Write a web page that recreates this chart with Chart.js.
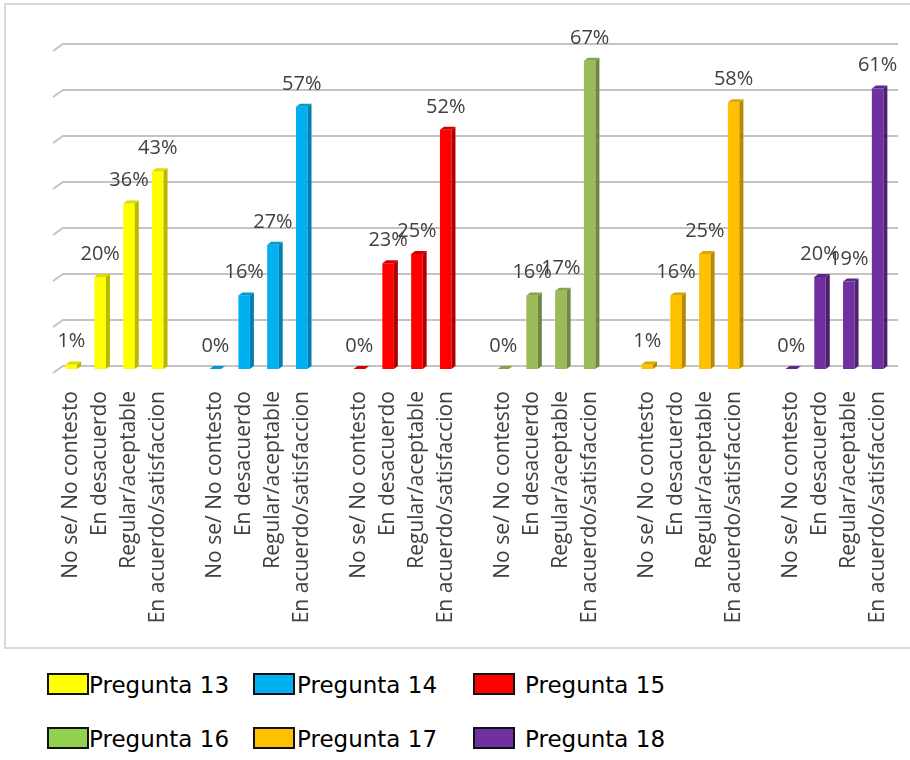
<!DOCTYPE html>
<html>
<head>
<meta charset="utf-8">
<script src="https://cdn.jsdelivr.net/npm/chart.js@4.4.1/dist/chart.umd.min.js"></script>
<style>
  body { margin: 0; background: #fff; }
  #wrap { position: relative; width: 910px; height: 760px; overflow: hidden; }
  #myChart { position: absolute; left: 0; top: 0; }
  .leg { position: absolute; font-family: "DejaVu Sans", sans-serif; font-size: 23px; color: #000; white-space: nowrap; }
  .leg .box { position: absolute; left: 0; top: 0; width: 38px; height: 18px; border: 2px solid #111; }
</style>
</head>
<body>
<div id="wrap">
  <canvas id="myChart" width="910" height="655"></canvas>
  <div id="legend"></div>
</div>
<script>
// answer categories, repeated for every question
const responses = ["No se/ No contesto", "En desacuerdo", "Regular/aceptable", "En acuerdo/satisfaccion"];
const questions = ["Pregunta 13", "Pregunta 14", "Pregunta 15", "Pregunta 16", "Pregunta 17", "Pregunta 18"];

// percentages per question
const p13 = [1, 20, 36, 43];
const p14 = [0, 16, 27, 57];
const p15 = [0, 23, 25, 52];
const p16 = [0, 16, 17, 67];
const p17 = [1, 16, 25, 58];
const p18 = [0, 20, 19, 61];
const allValues = [p13, p14, p15, p16, p17, p18];

const yTicks = [0, 10, 20, 30, 40, 50, 60, 70];

// colors
const fronts = ["#FFFF00", "#00B0F0", "#FF0000", "#9BBB59", "#FFC000", "#7030A0"];
const sides  = ["#B8B800", "#0080B0", "#B00000", "#6F8840", "#B88A00", "#4E2170"];
const tops   = ["#DCDC00", "#0098D0", "#D40000", "#86A34C", "#DCA600", "#5E2888"];
const legendColors = ["#FFFF00", "#00B0F0", "#FF0000", "#92D050", "#FFC000", "#7030A0"];

// build labels with an empty slot between groups
var labels = [];
questions.forEach(function (q, qi) {
  responses.forEach(function (r) { labels.push(r); });
  if (qi < questions.length - 1) labels.push("");
});

var datasets = questions.map(function (q, qi) {
  var data = labels.map(function () { return null; });
  allValues[qi].forEach(function (v, i) { data[qi * 5 + i] = v; });
  return {
    label: q,
    data: data,
    backgroundColor: fronts[qi],
    borderWidth: 0,
    barPercentage: 0.4,
    categoryPercentage: 1.0,
    grouped: false
  };
});

var DX = 4, DY = 3;

var framePlugin = {
  id: "frame",
  beforeDraw: function (chart) {
    var c = chart.ctx;
    c.save();
    c.strokeStyle = "#d9d9d9";
    c.lineWidth = 2;
    c.strokeRect(5, 4, 930, 644);
    c.restore();
  }
};

var wallGrid = {
  id: "wallGrid",
  beforeDatasetsDraw: function (chart) {
    var c = chart.ctx, ys = chart.scales.y;
    c.save();
    c.strokeStyle = "#c4c4c4";
    c.lineWidth = 2;
    yTicks.forEach(function (t) {
      var y = Math.round(ys.getPixelForValue(t)) - DY;
      c.beginPath();
      c.moveTo(53, y + 7);
      c.lineTo(63, y);
      c.lineTo(898, y);
      c.stroke();
    });
    c.restore();
  }
};

var bars3d = {
  id: "bars3d",
  afterDatasetsDraw: function (chart) {
    var c = chart.ctx;
    c.save();
    chart.data.datasets.forEach(function (ds, di) {
      chart.getDatasetMeta(di).data.forEach(function (bar, i) {
        var v = ds.data[i];
        if (v === null) return;
        var l = bar.x - bar.width / 2, r = bar.x + bar.width / 2;
        var top = bar.y, base = bar.base;
        // right side
        c.fillStyle = sides[di];
        c.beginPath();
        c.moveTo(r, top); c.lineTo(r + DX, top - DY);
        c.lineTo(r + DX, base - DY); c.lineTo(r, base);
        c.closePath(); c.fill();
        // top face
        c.fillStyle = tops[di];
        c.beginPath();
        c.moveTo(l, top); c.lineTo(l + DX, top - DY);
        c.lineTo(r + DX, top - DY); c.lineTo(r, top);
        c.closePath(); c.fill();
        // value label
        c.fillStyle = "#404040";
        c.font = "20px 'Open Sans'";
        c.textAlign = "center";
        c.textBaseline = "alphabetic";
        c.fillText(v + "%", bar.x, top - 17);
      });
    });
    c.restore();
  }
};

var ctx = document.getElementById("myChart").getContext("2d");
var myChart = new Chart(ctx, {
  type: "bar",
  data: { labels: labels, datasets: datasets },
  options: {
    responsive: false,
    animation: false,
    layout: { padding: { left: 57, right: 18, top: 47, bottom: 0 } },
    plugins: { legend: { display: false }, tooltip: { enabled: false } },
    scales: {
      x: {
        grid: { display: false },
        border: { display: false },
        ticks: {
          autoSkip: false,
          maxRotation: 90,
          minRotation: 90,
          padding: 14,
          color: "#404040",
          font: { family: "'Open Sans'", size: 21 }
        },
        afterFit: function (scale) {
          scale.height = 655 - 369;
          scale.paddingLeft = 0;
          scale.paddingRight = 0;
        }
      },
      y: {
        display: false,
        min: 0,
        max: 70
      }
    }
  },
  plugins: [framePlugin, wallGrid, bars3d]
});

// legend below the frame
var legLeft = [47, 253, 473];
var textLeft = [42, 44, 52];
var legTop = [673, 727];
var legend = document.getElementById("legend");
questions.forEach(function (q, qi) {
  var d = document.createElement("div");
  d.className = "leg";
  d.style.left = legLeft[qi % 3] + "px";
  d.style.top = legTop[Math.floor(qi / 3)] + "px";
  var b = document.createElement("span");
  b.className = "box";
  b.style.background = legendColors[qi];
  d.appendChild(b);
  var s = document.createElement("span");
  s.textContent = q;
  s.style.marginLeft = textLeft[qi % 3] + "px";
  s.style.position = "relative";
  s.style.top = "-1px";
  d.appendChild(s);
  legend.appendChild(d);
});
</script>
</body>
</html>
